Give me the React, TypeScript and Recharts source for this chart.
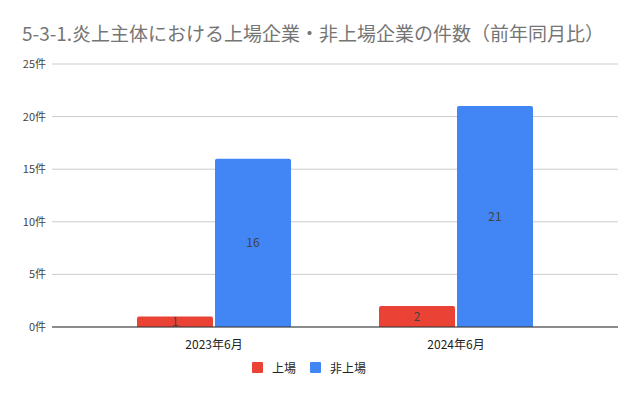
import React from "react";
import {
  BarChart,
  Bar,
  XAxis,
  YAxis,
  CartesianGrid,
  Legend,
  LabelList,
} from "recharts";

const months = ["2023年6月", "2024年6月"];
const listed = [1, 2];
const unlisted = [16, 21];
const yTicks = [0, 5, 10, 15, 20, 25];

const RED = "#EA4335";
const BLUE = "#4285F4";
const FONT = "'Noto Sans CJK JP', Roboto, sans-serif";

const data = months.map((m, i) => ({
  month: m,
  上場: listed[i],
  非上場: unlisted[i],
}));

function LegendBox() {
  const items = [
    { name: "上場", color: RED },
    { name: "非上場", color: BLUE },
  ];
  return (
    <div
      style={{
        display: "flex",
        justifyContent: "center",
        gap: 14,
        fontFamily: FONT,
        fontSize: 12,
        color: "#222",
        height: 16,
        alignItems: "center",
      }}
    >
      {items.map((it) => (
        <div key={it.name} style={{ display: "flex", alignItems: "center" }}>
          <span
            style={{
              width: 11,
              height: 11,
              background: it.color,
              borderRadius: 1,
              marginRight: 9,
              display: "inline-block",
            }}
          />
          <span>{it.name}</span>
        </div>
      ))}
    </div>
  );
}

export default function App() {
  return (
    <div style={{ position: "absolute", left: 0, top: 0, width: 638, height: 395, background: "#fff" }}>
      <div
        style={{
          position: "absolute",
          left: 22,
          top: 19,
          fontFamily: FONT,
          fontSize: 19,
          color: "#757575",
          whiteSpace: "nowrap",
        }}
      >
        5-3-1.炎上主体における上場企業・非上場企業の件数（前年同月比）
      </div>
      <BarChart
        width={638}
        height={395}
        data={data}
        margin={{ top: 64, right: 20, bottom: 20, left: 0 }}
        barCategoryGap={44}
        barGap={2}
      >
        <CartesianGrid vertical={false} stroke="#cccccc" />
        <XAxis
          dataKey="month"
          padding={{ left: 41, right: 41 }}
          tickLine={false}
          axisLine={{ stroke: "#333333" }}
          tick={{ fill: "#222", fontSize: 12, fontFamily: FONT }}
          tickMargin={7}
          height={32}
        />
        <YAxis
          width={52}
          domain={[0, 25]}
          ticks={yTicks}
          tickFormatter={(v) => `${v}件`}
          tickLine={false}
          axisLine={false}
          tick={{ fill: "#444", fontSize: 11, fontFamily: FONT }}
          tickMargin={0}
        />
        <Legend verticalAlign="bottom" height={16} content={() => <LegendBox />} />
        <Bar dataKey="上場" fill={RED} radius={[2, 2, 0, 0]} isAnimationActive={false}>
          <LabelList dataKey="上場" position="center" fill="#444" fontSize={12} fontFamily={FONT} />
        </Bar>
        <Bar dataKey="非上場" fill={BLUE} radius={[2, 2, 0, 0]} isAnimationActive={false}>
          <LabelList dataKey="非上場" position="center" fill="#444" fontSize={12} fontFamily={FONT} />
        </Bar>
      </BarChart>
    </div>
  );
}
